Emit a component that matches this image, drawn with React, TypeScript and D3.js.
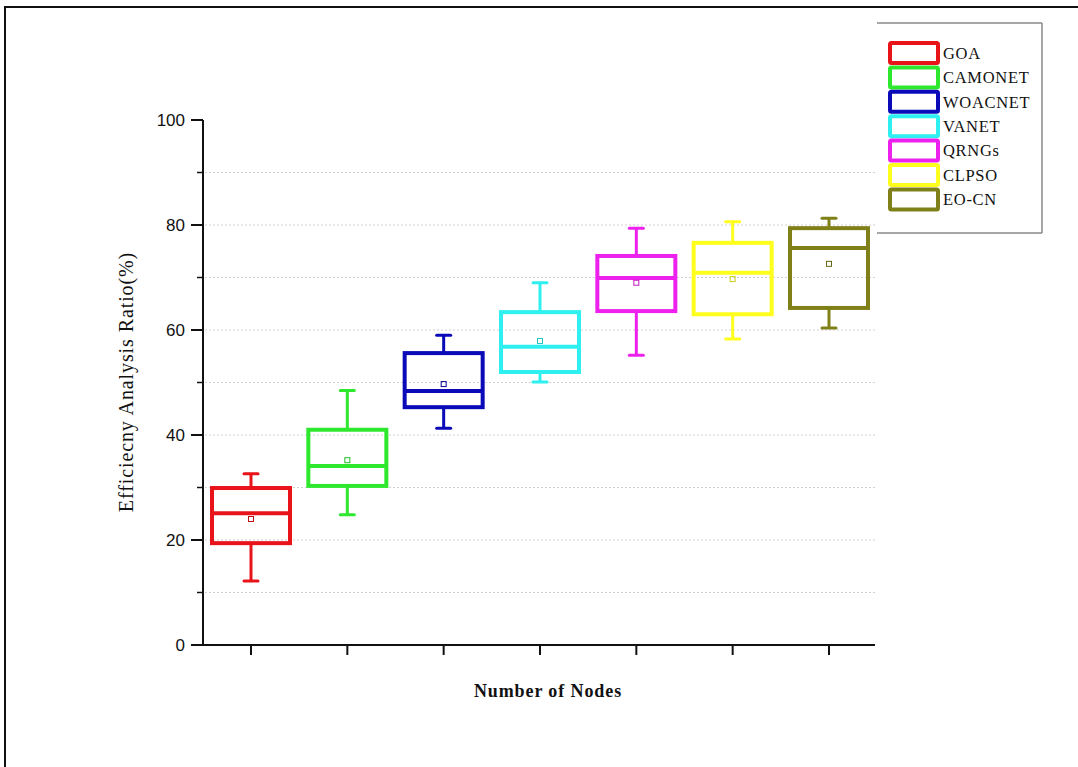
import React from "react";
import * as d3 from "d3";

const categories = ["GOA", "CAMONET", "WOACNET", "VANET", "QRNGs", "CLPSO", "EO-CN"];
const colors = ["#e8141a", "#2ee82e", "#0a0ab8", "#2ef0f0", "#ee20ee", "#ffff1e", "#808018"];
const whiskerLow = [12.2, 24.8, 41.3, 50.1, 55.2, 58.3, 60.4];
const q1 = [19.4, 30.3, 45.3, 52.0, 63.6, 63.0, 64.2];
const median = [25.1, 34.1, 48.4, 56.8, 69.9, 70.9, 75.6];
const q3 = [29.9, 41.0, 55.6, 63.4, 74.1, 76.6, 79.4];
const whiskerHigh = [32.6, 48.5, 59.0, 69.0, 79.4, 80.6, 81.3];
const means = [24.0, 35.2, 49.7, 57.9, 69.0, 69.7, 72.6];
const majorTicks = [0, 20, 40, 60, 80, 100];
const minorTicks = [10, 30, 50, 70, 90];
const gridValues = [10, 20, 30, 40, 50, 60, 70, 80, 90];

export default function App() {
  const W = 1078, H = 767;
  const axisX = 203, axisBottom = 645, axisTop = 120, plotRight = 875;
  const y = d3.scaleLinear().domain([0, 100]).range([axisBottom, axisTop]);
  const x = d3.scalePoint<string>().domain(categories).range([251, 829]);
  const boxW = 78;
  const capW = 14;
  const serif = "'Liberation Serif', 'DejaVu Serif', serif";
  const sans = "'Liberation Sans', Arial, sans-serif";

  return (
    <svg width={W} height={H} style={{ position: "absolute", left: 0, top: 0, background: "#fff" }}>
      <rect x={0} y={0} width={W} height={H} fill="#fff" />
      {/* outer frame */}
      <rect x={5} y={7} width={W + 10} height={H + 10} fill="none" stroke="#111" strokeWidth={2} />

      {/* gridlines */}
      {gridValues.map((v) => (
        <line key={"g" + v} x1={axisX + 2} x2={plotRight} y1={y(v)} y2={y(v)}
          stroke="#d0d0d0" strokeWidth={1} strokeDasharray="2,2" />
      ))}

      {/* axes */}
      <line x1={axisX} x2={axisX} y1={axisTop} y2={axisBottom} stroke="#111" strokeWidth={2} />
      <line x1={axisX - 11} x2={plotRight} y1={axisBottom} y2={axisBottom} stroke="#111" strokeWidth={2} />
      {majorTicks.map((v) => (
        <g key={"t" + v}>
          <line x1={axisX - 12} x2={axisX} y1={y(v)} y2={y(v)} stroke="#111" strokeWidth={2} />
          <text x={axisX - 18} y={y(v)} dy="0.36em" textAnchor="end" fontFamily={sans} fontSize={17} fill="#111">{v}</text>
        </g>
      ))}
      {minorTicks.map((v) => (
        <line key={"m" + v} x1={axisX - 6} x2={axisX} y1={y(v)} y2={y(v)} stroke="#111" strokeWidth={1.5} />
      ))}
      {categories.map((c) => (
        <line key={"xt" + c} x1={x(c)} x2={x(c)} y1={axisBottom} y2={axisBottom + 10} stroke="#111" strokeWidth={2} />
      ))}

      {/* boxes */}
      {categories.map((c, i) => {
        const cx = x(c) as number;
        const col = colors[i];
        return (
          <g key={"b" + c}>
            <line x1={cx} x2={cx} y1={y(whiskerHigh[i])} y2={y(q3[i])} stroke={col} strokeWidth={3} />
            <line x1={cx} x2={cx} y1={y(q1[i])} y2={y(whiskerLow[i])} stroke={col} strokeWidth={3} />
            <line x1={cx - capW / 2} x2={cx + capW / 2} y1={y(whiskerHigh[i])} y2={y(whiskerHigh[i])} stroke={col} strokeWidth={3} strokeLinecap="round" />
            <line x1={cx - capW / 2} x2={cx + capW / 2} y1={y(whiskerLow[i])} y2={y(whiskerLow[i])} stroke={col} strokeWidth={3} strokeLinecap="round" />
            <rect x={cx - boxW / 2} y={y(q3[i])} width={boxW} height={y(q1[i]) - y(q3[i])} fill="none" stroke={col} strokeWidth={4} />
            <line x1={cx - boxW / 2} x2={cx + boxW / 2} y1={y(median[i])} y2={y(median[i])} stroke={col} strokeWidth={4} />
            <rect x={cx - 2.5} y={y(means[i]) - 2.5} width={5} height={5} fill="none" stroke={d3.color(col)!.darker(0.6).formatHex()} strokeWidth={1} />
          </g>
        );
      })}

      {/* axis titles */}
      <text x={548} y={697} textAnchor="middle" fontFamily={serif} fontWeight="bold" fontSize={18} letterSpacing={0.9} fill="#111">Number of Nodes</text>
      <text transform={`translate(133,382) rotate(-90)`} textAnchor="middle" fontFamily={serif} fontSize={20} letterSpacing={0.9} fill="#111">Efficiecny Analysis Ratio(%)</text>

      {/* legend */}
      <g>
        <line x1={877} x2={1042} y1={23} y2={23} stroke="#888" strokeWidth={1.5} />
        <line x1={1042} x2={1042} y1={23} y2={233} stroke="#888" strokeWidth={1.5} />
        <line x1={877} x2={1042} y1={233} y2={233} stroke="#888" strokeWidth={1.5} />
        {categories.map((c, i) => {
          const ty = 53 + i * 24.4;
          return (
            <g key={"l" + c}>
              <rect x={890} y={ty - 10} width={48} height={20} fill="none" stroke={colors[i]} strokeWidth={4} rx={1.5} />
              <text x={943} y={ty} dy="0.35em" fontFamily={serif} fontSize={16.5} letterSpacing={0.7} fill="#111">{c}</text>
            </g>
          );
        })}
      </g>
    </svg>
  );
}
